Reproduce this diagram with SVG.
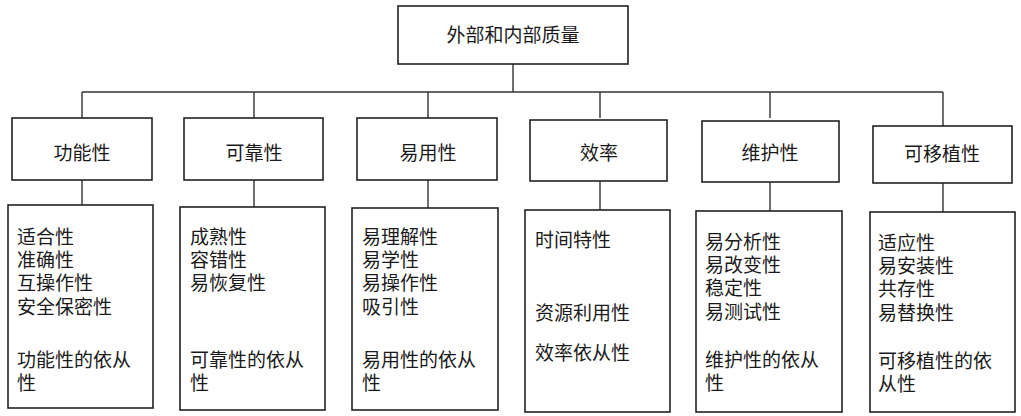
<svg xmlns="http://www.w3.org/2000/svg" width="1021" height="416" viewBox="0 0 1021 416">
<style>
.box{fill:#fff;stroke:#222;stroke-width:1.6}
.ln{fill:none;stroke:#333;stroke-width:1.4}
text{font-family:"Liberation Sans","Noto Sans CJK SC","Noto Sans CJK TC",sans-serif;font-size:19px;fill:#1a1a1a}
.c{text-anchor:middle}
</style>
<rect width="1021" height="416" fill="#fff"/>
<g id="connectors">
<path class="ln" d="M513 64V92M82 92H943M82 92V118M254 92V118M428 92V118M600 92V118M770 92V118M943 92V126"/>
<path class="ln" d="M82 180V205M254 180V207M428 180V208M600 180V210M770 180V211M943 183V212"/>
</g>
<g id="root"><rect class="box" x="398" y="6" width="230" height="58"/><text class="c" x="513" y="42">外部和内部质量</text></g>
<g id="n1"><rect class="box" x="12" y="118" width="140" height="62"/><text class="c" x="82" y="160">功能性</text></g>
<g id="n2"><rect class="box" x="184" y="118" width="139" height="62"/><text class="c" x="254" y="160">可靠性</text></g>
<g id="n3"><rect class="box" x="357" y="118" width="140" height="62"/><text class="c" x="428" y="160">易用性</text></g>
<g id="n4"><rect class="box" x="530" y="120" width="137" height="61"/><text class="c" x="599" y="160">效率</text></g>
<g id="n5"><rect class="box" x="702" y="121" width="137" height="61"/><text class="c" x="770" y="160">维护性</text></g>
<g id="n6"><rect class="box" x="873" y="126" width="139" height="57"/><text class="c" x="942" y="161">可移植性</text></g>
<g id="d1"><rect class="box" x="8" y="205" width="145" height="203"/>
<text x="17" y="244"><tspan x="17">适合性</tspan><tspan x="17" dy="23">准确性</tspan><tspan x="17" dy="23">互操作性</tspan><tspan x="17" dy="24">安全保密性</tspan></text>
<text x="17" y="367"><tspan x="17">功能性的依从</tspan><tspan x="17" dy="23">性</tspan></text></g>
<g id="d2"><rect class="box" x="180" y="207" width="145" height="203"/>
<text x="190" y="244"><tspan x="190">成熟性</tspan><tspan x="190" dy="23">容错性</tspan><tspan x="190" dy="23">易恢复性</tspan></text>
<text x="190" y="367"><tspan x="190">可靠性的依从</tspan><tspan x="190" dy="23">性</tspan></text></g>
<g id="d3"><rect class="box" x="352" y="208" width="146" height="202"/>
<text x="362" y="244"><tspan x="362">易理解性</tspan><tspan x="362" dy="23">易学性</tspan><tspan x="362" dy="23">易操作性</tspan><tspan x="362" dy="24">吸引性</tspan></text>
<text x="362" y="367"><tspan x="362">易用性的依从</tspan><tspan x="362" dy="23">性</tspan></text></g>
<g id="d4"><rect class="box" x="525" y="210" width="145" height="202"/>
<text x="535" y="247">时间特性</text><text x="535" y="320">资源利用性</text><text x="535" y="360">效率依从性</text></g>
<g id="d5"><rect class="box" x="696" y="211" width="146" height="201"/>
<text x="705" y="249"><tspan x="705">易分析性</tspan><tspan x="705" dy="23">易改变性</tspan><tspan x="705" dy="23">稳定性</tspan><tspan x="705" dy="24">易测试性</tspan></text>
<text x="705" y="367"><tspan x="705">维护性的依从</tspan><tspan x="705" dy="23">性</tspan></text></g>
<g id="d6"><rect class="box" x="870" y="212" width="145" height="200"/>
<text x="878" y="250"><tspan x="878">适应性</tspan><tspan x="878" dy="23">易安装性</tspan><tspan x="878" dy="23">共存性</tspan><tspan x="878" dy="24">易替换性</tspan></text>
<text x="878" y="368"><tspan x="878">可移植性的依</tspan><tspan x="878" dy="23">从性</tspan></text></g>
</svg>
